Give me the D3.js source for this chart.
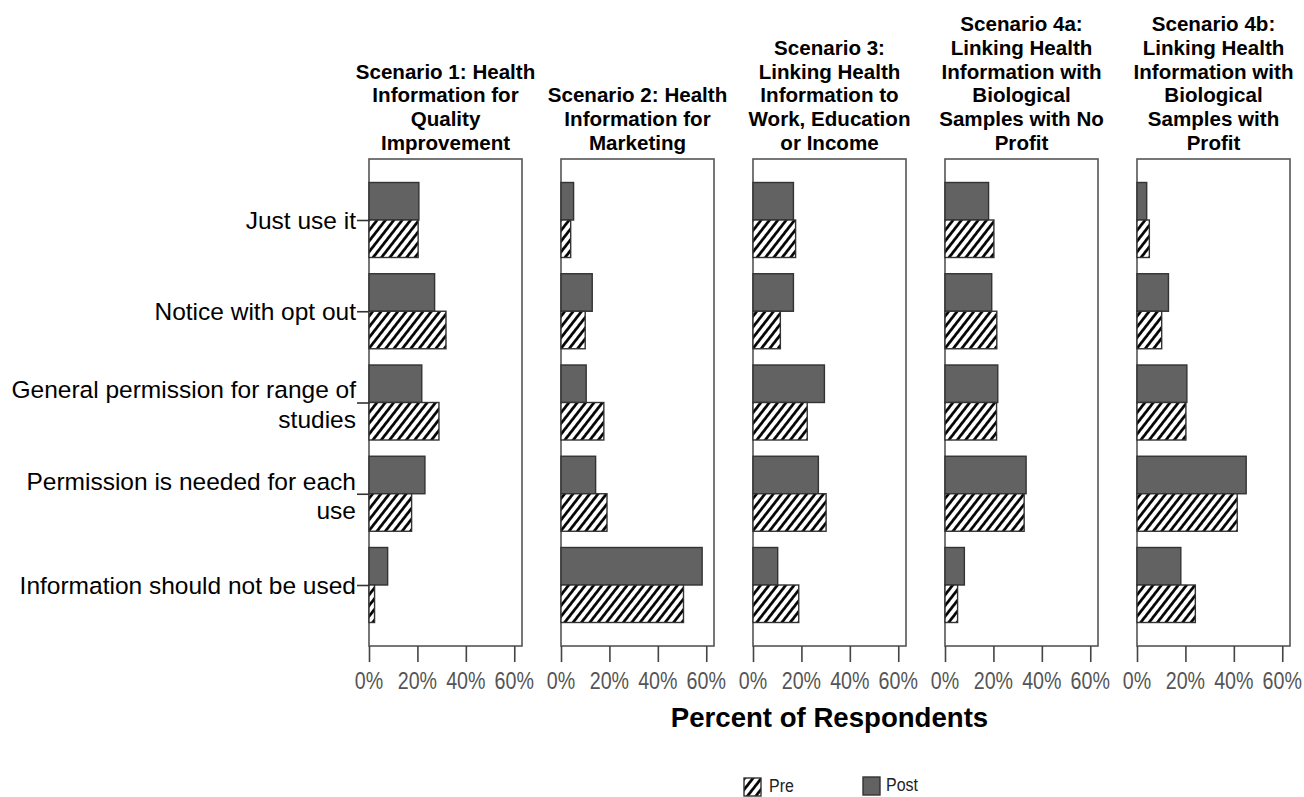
<!DOCTYPE html>
<html><head><meta charset="utf-8">
<script src="https://cdn.jsdelivr.net/npm/d3@7"></script>
<style>
html,body{margin:0;padding:0;background:#fff;}
svg{display:block;font-family:"Liberation Sans",Arial,sans-serif;}
</style></head>
<body><svg id="chart" width="1304" height="797"></svg>
<script>
// ---- data ----
const categories = ["Just use it", "Notice with opt out", "General permission for range of studies", "Permission is needed for each use", "Information should not be used"];
const categoryLines = [["Just use it"], ["Notice with opt out"], ["General permission for range of", "studies"], ["Permission is needed for each", "use"], ["Information should not be used"]];
const scenarioTitles = [
  ["Scenario 1: Health", "Information for", "Quality", "Improvement"],
  ["Scenario 2: Health", "Information for", "Marketing"],
  ["Scenario 3:", "Linking Health", "Information to", "Work, Education", "or Income"],
  ["Scenario 4a:", "Linking Health", "Information with", "Biological", "Samples with No", "Profit"],
  ["Scenario 4b:", "Linking Health", "Information with", "Biological", "Samples with", "Profit"]
];
const series = ["Post", "Pre"];
const preValues = [
  [20.3, 31.8, 28.9, 17.6, 2.3],
  [4.0, 10.0, 17.7, 19.0, 50.6],
  [17.6, 11.3, 22.4, 30.2, 18.9],
  [20.2, 21.4, 21.3, 32.7, 5.2],
  [5.1, 10.2, 20.2, 41.4, 24.1]
];
const postValues = [
  [20.6, 27.1, 21.8, 23.1, 7.7],
  [5.2, 12.9, 10.4, 14.3, 58.3],
  [16.7, 16.7, 29.5, 27.0, 10.2],
  [18.0, 19.3, 21.8, 33.5, 8.0],
  [4.0, 13.0, 20.6, 45.1, 18.1]
];
const xTicks = [0, 20, 40, 60];
const xMax = 63.2;
const axisTitle = "Percent of Respondents";

// ---- layout ----
const svg = d3.select("#chart");
const panelLeft0 = 369, panelStep = 192, panelW = 153;
const plotTop = 159, plotBottom = 646;
const POST_FILL = "#626262", STROKE = "#333";

const defs = svg.append("defs");
const pat = defs.append("pattern").attr("id", "hatch")
  .attr("patternUnits", "userSpaceOnUse").attr("width", 6.6).attr("height", 6.6)
  .attr("patternTransform", "rotate(38)");
pat.append("rect").attr("width", 6.6).attr("height", 6.6).attr("fill", "#fff");
pat.append("line").attr("x1", 3.3).attr("x2", 3.3).attr("y1", 0).attr("y2", 6.6)
  .attr("stroke", "#000").attr("stroke-width", 2.7);

const y = d3.scaleBand().domain(categories).range([plotTop, plotBottom])
  .paddingInner(0.178).paddingOuter(0.2575);
const ySub = d3.scaleBand().domain(series).range([0, y.bandwidth()]);
const x = d3.scaleLinear().domain([0, xMax]).range([0, panelW]);

scenarioTitles.forEach((title, p) => {
  const g = svg.append("g").attr("transform", `translate(${panelLeft0 + p * panelStep},0)`);
  const n = title.length;
  title.forEach((line, i) => {
    g.append("text")
      .attr("transform", `translate(${panelW / 2},${150 - (n - 1 - i) * 23.8}) scale(0.98,1)`)
      .attr("text-anchor", "middle").attr("font-size", 21).attr("font-weight", "bold")
      .attr("fill", "#000").text(line);
  });
  g.append("rect").attr("x", 0).attr("y", plotTop).attr("width", panelW).attr("height", plotBottom - plotTop)
    .attr("fill", "#fff").attr("stroke", "#555").attr("stroke-width", 1.6);
  categories.forEach((c, i) => {
    const vals = { Post: postValues[p][i], Pre: preValues[p][i] };
    series.forEach(s => {
      g.append("rect")
        .attr("x", x(0)).attr("y", y(c) + ySub(s))
        .attr("width", x(vals[s])).attr("height", ySub.bandwidth())
        .attr("fill", s === "Post" ? POST_FILL : "url(#hatch)")
        .attr("stroke", STROKE).attr("stroke-width", 1.4);
    });
  });
  const ax = g.append("g").attr("transform", `translate(0,${plotBottom})`)
    .call(d3.axisBottom(x).tickValues(xTicks).tickSize(16).tickFormat(() => ""));
  ax.select(".domain").remove();
  ax.selectAll(".tick line").attr("stroke", "#444").attr("stroke-width", 1.6);
  xTicks.forEach(t => {
    g.append("text")
      .attr("transform", `translate(${x(t)},689) scale(0.82,1)`)
      .attr("text-anchor", "middle").attr("font-size", 24).attr("fill", "#555")
      .text(t + "%");
  });
  if (p === 0) {
    const ay = g.append("g")
      .call(d3.axisLeft(d3.scalePoint().domain(categories).range([y(categories[0]) + y.bandwidth() / 2, y(categories[4]) + y.bandwidth() / 2]))
        .tickSize(12).tickFormat(() => ""));
    ay.select(".domain").remove();
    ay.selectAll(".tick line").attr("stroke", "#333").attr("stroke-width", 1.6);
    categories.forEach((c, i) => {
      const cy = y(c) + y.bandwidth() / 2;
      const lines = categoryLines[i];
      lines.forEach((ln, j) => {
        const off = lines.length > 1 ? (j - (lines.length - 1) / 2) * 29.5 + 2 : 0;
        g.append("text").attr("x", -13).attr("y", cy + off + 8.7)
          .attr("text-anchor", "end").attr("font-size", 24.5).attr("fill", "#000").text(ln);
      });
    });
  }
});

const xCenter = panelLeft0 + (4 * panelStep + panelW) / 2;
svg.append("text").attr("x", xCenter).attr("y", 727).attr("text-anchor", "middle")
  .attr("font-size", 27.6).attr("font-weight", "bold").attr("fill", "#000").text(axisTitle);

const leg = svg.append("g");
leg.append("rect").attr("x", 744).attr("y", 778).attr("width", 17).attr("height", 18)
  .attr("fill", "url(#hatch)").attr("stroke", STROKE).attr("stroke-width", 1.4);
leg.append("text").attr("transform", "translate(769,792) scale(0.84,1)")
  .attr("font-size", 19).attr("fill", "#222").text("Pre");
leg.append("rect").attr("x", 863).attr("y", 777).attr("width", 17).attr("height", 18)
  .attr("fill", POST_FILL).attr("stroke", STROKE).attr("stroke-width", 1.4);
leg.append("text").attr("transform", "translate(886,791) scale(0.84,1)")
  .attr("font-size", 19).attr("fill", "#222").text("Post");
</script></body></html>
